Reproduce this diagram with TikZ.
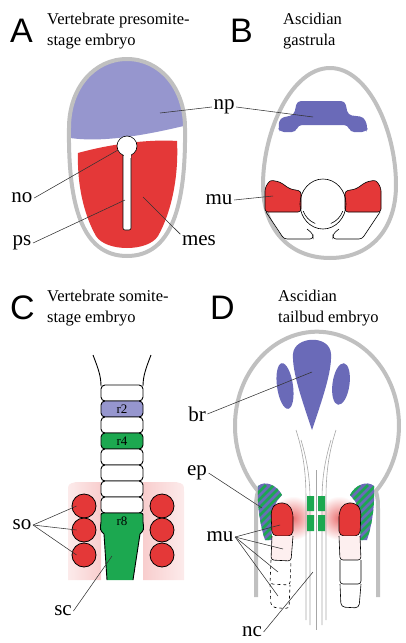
\documentclass[tikz,border=0pt]{standalone}
\usepackage{fontspec}
\setmainfont{Liberation Serif}
\newfontfamily\panelfont{Liberation Sans}
\usetikzlibrary{positioning}

\definecolor{lilac}{RGB}{150,150,206}
\definecolor{plum}{RGB}{106,106,184}
\definecolor{mred}{RGB}{228,56,56}
\definecolor{ngreen}{RGB}{28,168,80}
\definecolor{shellgray}{RGB}{192,192,192}

\begin{document}
\begin{tikzpicture}[x=1pt, y=-1pt,
  panel/.style={font=\panelfont\fontsize{34}{34}\selectfont, inner sep=0pt, anchor=base west},
  ttl/.style={font=\fontsize{16.5}{20.5}\selectfont, align=left, inner sep=0pt, anchor=north west},
  lbl/.style={font=\fontsize{21}{21}\selectfont, inner sep=1.5pt},
  seg/.style={font=\fontsize{13}{13}\selectfont, inner sep=0pt},
  pointer/.style={draw=black!80, line width=0.55pt},
  shell/.style={draw=shellgray, line width=4pt},
  cellline/.style={draw=black, line width=0.6pt},
  tube/.style={draw=gray!70, line width=0.6pt},
  rhombo/.style={draw=black, line width=0.9pt, rounded corners=4pt},
  somite/.style={circle, draw=black, line width=0.8pt, fill=mred, minimum size=24pt, inner sep=0pt},
]
\useasboundingbox (0,0) rectangle (406,643);

% ---------- A: vertebrate presomite stage ----------
\node[panel] (A) at (10,42) {A};
\node[ttl] (Atitle) at (47,13) {Vertebrate presomite-\\stage embryo};

\fill[white] (127,59) .. controls (160,59) and (185,88) .. (185,128)
  .. controls (186,205) and (172,256) .. (127,256)
  .. controls (82,256) and (68,205) .. (69,128)
  .. controls (69,88) and (94,59) .. cycle;
\begin{scope}
  \clip (127,59) .. controls (160,59) and (185,88) .. (185,128)
    .. controls (186,205) and (172,256) .. (127,256)
    .. controls (82,256) and (68,205) .. (69,128)
    .. controls (69,88) and (94,59) .. cycle;
  \fill[lilac] (60,50) -- (200,50) -- (200,122)
    .. controls (160,132) and (100,146) .. (60,136) -- cycle;
\end{scope}
% mesoderm
\fill[mred] (78,153) .. controls (110,144) and (150,139) .. (177,141)
  .. controls (179,180) and (170,215) .. (158,236)
  .. controls (148,252) and (106,252) .. (96,236)
  .. controls (84,215) and (77,185) .. cycle;
\draw[shell] (127,59) .. controls (160,59) and (185,88) .. (185,128)
  .. controls (186,205) and (172,256) .. (127,256)
  .. controls (82,256) and (68,205) .. (69,128)
  .. controls (69,88) and (94,59) .. cycle;
% node and streak
\filldraw[fill=white, cellline, rounded corners=2pt] (123,152) rectangle (131,230);
\filldraw[fill=white, cellline] (127,146) circle (10);
\fill[white] (123.5,150) rectangle (130.5,158);

\node[lbl] (no) at (22,198) {no};
\node[lbl] (ps) at (22,243) {ps};
\node[lbl] (mes) at (199,241) {mes};
\coordinate (noEnd) at (118,150);
\coordinate (psEnd) at (125,200);
\coordinate (mesEnd) at (143,197);
\draw[pointer] (no.east) -- (noEnd);
\draw[pointer] (ps.east) -- (psEnd);
\draw[pointer] (mes.north west) -- (mesEnd);

% ---------- B: ascidian gastrula ----------
\node[panel] (B) at (230,42) {B};
\node[ttl] (Btitle) at (283,13) {Ascidian\\gastrula};

\draw[shell] (330,68) .. controls (368,68) and (396,130) .. (396,185)
  .. controls (396,230) and (370,258) .. (330,258)
  .. controls (290,258) and (263,230) .. (263,185)
  .. controls (263,130) and (292,68) .. cycle;
% neural plate
\fill[plum, rounded corners=4pt] (278,128) -- (280,118) -- (294,115) -- (297,101)
  -- (345,101) -- (348,115) -- (364,117) -- (368,128) -- (366,132)
  -- (350,132) -- (348,125) -- (298,125) -- (296,132) -- (280,132) -- cycle;
% muscle cells and their neighbours
\filldraw[fill=mred, cellline, rounded corners=3pt] (265,212) -- (265,188) -- (270,180)
  -- (280,182) -- (290,189) -- (301,191) -- (301,212) -- cycle;
\filldraw[fill=mred, cellline, rounded corners=3pt] (381,212) -- (381,188) -- (376,180)
  -- (366,182) -- (356,189) -- (345,191) -- (345,212) -- cycle;
\draw[cellline] (323,204) ellipse (23 and 25);
\draw[cellline] (323,204) ++(112:21) arc[start angle=112, end angle=160, radius=21];
\draw[cellline] (323,204) ++(20:21) arc[start angle=20, end angle=68, radius=21];
\draw[cellline, rounded corners=3pt] (266,212) -- (284,239) -- (313,239) -- (313,234) -- (307,229);
\draw[cellline, rounded corners=3pt] (380,212) -- (362,239) -- (333,239) -- (333,234) -- (339,229);

\node[lbl] (np) at (224,107) {np};
\node[lbl] (muB) at (219,200) {mu};
\coordinate (npA) at (160,113);
\coordinate (npB) at (313,117);
\coordinate (muBEnd) at (273,196);
\draw[pointer] (np.west) -- (npA);
\draw[pointer] (np.east) -- (npB);
\draw[pointer] (muB.east) -- (muBEnd);

% ---------- C: vertebrate somite stage ----------
\node[panel] (C) at (10,319) {C};
\node[ttl] (Ctitle) at (47,290) {Vertebrate somite-\\stage embryo};

\shade[left color=mred!10, middle color=mred!45, right color=mred!25]
  (68,580) -- (68,492) .. controls (68,484) .. (76,482) -- (101,482) -- (101,580) -- cycle;
\shade[left color=mred!25, middle color=mred!45, right color=mred!10]
  (143,482) -- (176,482) .. controls (184,484) .. (184,492) -- (184,580) -- (143,580) -- cycle;

\draw[cellline, line width=0.9pt] (93,355) .. controls (98,368) and (101,376) .. (101,386);
\draw[cellline, line width=0.9pt] (151,355) .. controls (146,368) and (143,376) .. (143,386);
\foreach \y/\col in {385/white, 401/lilac, 417/white, 433/ngreen, 449/white, 465/white, 481/white, 497/white}
  \filldraw[rhombo, fill=\col] (101,\y) rectangle (143,\y+16);
% r8 running into the spinal cord
\filldraw[fill=ngreen, draw=black, line width=0.9pt] (107,580) -- (104,534)
  .. controls (100,530) .. (101,522) -- (101,517) .. controls (101,513) .. (105,513)
  -- (139,513) .. controls (143,513) .. (143,517) -- (143,522)
  .. controls (144,530) .. (140,534) -- (133,580);

\node[seg] (r2) at (122,409) {r2};
\node[seg] (r4) at (122,441) {r4};
\node[seg] (r8) at (122,521) {r8};

\foreach \n/\y in {1/506, 2/530, 3/555} {
  \node[somite] (soL\n) at (84,\y) {};
  \node[somite] (soR\n) at (162,\y) {};
}

\node[lbl] (so) at (22,525) {so};
\node[lbl] (sc) at (63,611) {sc};
\coordinate (scEnd) at (112,556);
\foreach \n in {1,2,3}
  \draw[pointer] (so.east) -- ([xshift=5pt]soL\n.west);
\draw[pointer] (sc.east) -- (scEnd);

% ---------- D: ascidian tailbud embryo ----------
\node[panel] (D) at (210,319) {D};
\node[ttl] (Dtitle) at (278,290) {Ascidian\\tailbud embryo};

% glow around the muscle precursors
\shade[inner color=mred!70, outer color=white] (293,518) circle (22);
\shade[inner color=mred!70, outer color=white] (339,518) circle (22);

% head and trunk outline
\draw[shell] (256,597) -- (256,512) .. controls (256,500) .. (258,491)
  arc[start angle=136, end angle=404, x radius=82, y radius=94]
  .. controls (378,500) .. (378,512) -- (378,597);

% neural tube / notochord lines
\draw[tube] (296,430) .. controls (304,455) and (306,475) .. (306,500) -- (306,620);
\draw[tube] (301,440) .. controls (307,460) and (310,478) .. (310,500) -- (310,625);
\draw[tube] (336,430) .. controls (328,455) and (326,475) .. (326,500) -- (326,620);
\draw[tube] (331,440) .. controls (325,460) and (322,478) .. (322,500) -- (322,625);
\draw[tube] (316,470) -- (316,630);
\fill[ngreen] (307,496) rectangle (314,511) (318,496) rectangle (325,511)
  (307,515) rectangle (314,531) (318,515) rectangle (325,531);

% brain
\fill[plum] (312,430) .. controls (302,400) and (292,372) .. (293,354)
  .. controls (294,336) and (330,334) .. (331,354)
  .. controls (332,372) and (322,400) .. (312,430) -- cycle;
\fill[plum, rotate around={8:(285,386)}] (285,386) ellipse (8 and 23);
\fill[plum, rotate around={-8:(341,384)}] (341,384) ellipse (8.5 and 21);

% epidermis, striped
\begin{scope}
  \clip (258,486) .. controls (265,480) and (277,485) .. (282,495) -- (277,501)
    .. controls (272,510) and (271,525) .. (272,540) -- (265,540)
    .. controls (260,525) and (257,505) .. (258,486) -- cycle;
  \fill[plum] (250,475) rectangle (290,545);
  \foreach \k in {0,...,11}
    \draw[ngreen, line width=2.6pt] (190+8*\k,545) -- ++(60,-60);
\end{scope}
\begin{scope}
  \clip (374,486) .. controls (367,480) and (355,485) .. (350,495) -- (355,501)
    .. controls (360,510) and (361,525) .. (360,540) -- (367,540)
    .. controls (372,525) and (375,505) .. (374,486) -- cycle;
  \fill[plum] (345,475) rectangle (385,545);
  \foreach \k in {0,...,12}
    \draw[ngreen, line width=2.6pt] (284+8*\k,545) -- ++(60,-60);
\end{scope}

% muscle cells and the row below them
\filldraw[fill=mred, cellline, rounded corners=5pt] (272,536) -- (271,510) -- (276,503)
  -- (288,503) -- (293,512) -- (293,536) -- cycle;
\filldraw[fill=mred!8, cellline, rounded corners=3pt] (272,536) -- (271,560) -- (291,561) -- (293,536);
\draw[cellline, dashed, rounded corners=3pt] (271,560) -- (270,584) -- (290,585) -- (291,561);
\draw[cellline, dashed, rounded corners=4pt] (270,584) -- (271,607) -- (289,609) -- (290,585);
\filldraw[fill=mred, cellline, rounded corners=5pt] (339,536) -- (339,512) -- (344,503)
  -- (356,503) -- (361,510) -- (360,536) -- cycle;
\filldraw[fill=mred!8, cellline, rounded corners=3pt] (339,536) -- (340,560) -- (361,560) -- (360,536);
\draw[cellline, rounded corners=3pt] (340,560) -- (340,584) -- (361,584) -- (361,560);
\draw[cellline, rounded corners=4pt] (340,584) -- (341,607) -- (359,608) -- (361,584);

\node[lbl] (br) at (197,414) {br};
\node[lbl] (ep) at (197,473) {ep};
\node[lbl] (muD) at (220,537) {mu};
\node[lbl] (nc) at (252,632) {nc};
\coordinate (brEnd) at (312,372);
\coordinate (epEnd) at (262,508);
\coordinate (ncEnd) at (313,572);
\draw[pointer] (br.east) -- (brEnd);
\draw[pointer] (ep.east) -- (epEnd);
\draw[pointer] (nc.east) -- (ncEnd);
\foreach \p in {(280,525), (283,549), (278,572), (278,596)}
  \draw[pointer] (muD.east) -- \p;
\end{tikzpicture}
\end{document}
